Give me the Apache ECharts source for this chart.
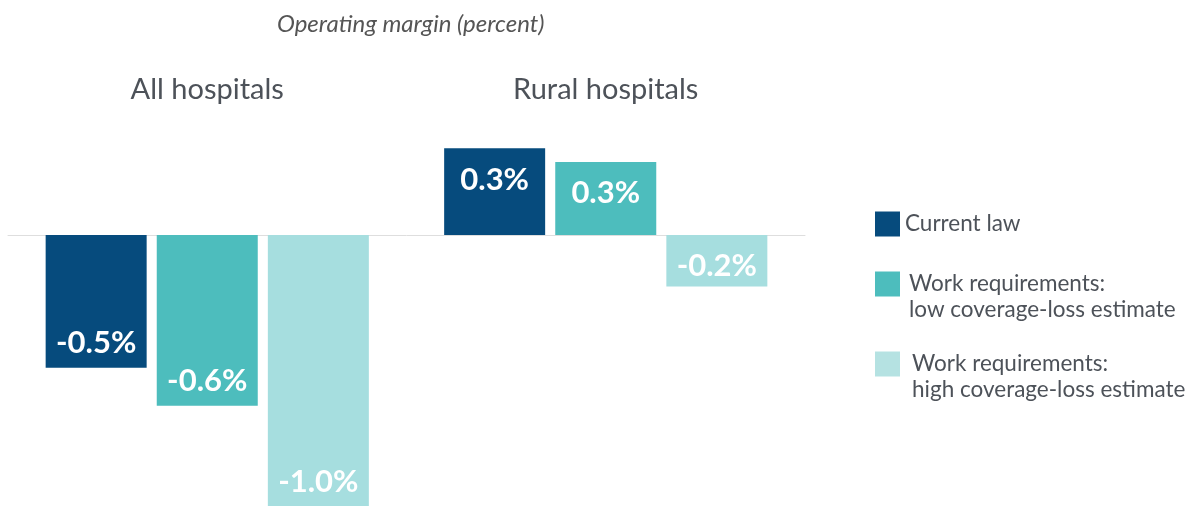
<!DOCTYPE html>
<html>
<head>
<meta charset="utf-8">
<script src="https://cdn.jsdelivr.net/npm/echarts@6/dist/echarts.min.js"></script>
<style>
  html, body { margin: 0; padding: 0; background: #fff; }
  #chart { width: 1193px; height: 506px; }
</style>
</head>
<body>
<div id="chart"></div>
<script>
// data
const categories = ["All hospitals", "Rural hospitals"];
const seriesNames = [
  "Current law",
  "Work requirements:\nlow coverage-loss estimate",
  "Work requirements:\nhigh coverage-loss estimate"
];
const currentLaw = [-0.49, 0.32];
const lowLoss = [-0.63, 0.27];
const highLoss = [-1.0, -0.19];
const colors = ["#064b7d", "#4dbdbd", "#a6dedf"];

const font = "Lato";

// label sits at the far end of each bar
const toData = (vals) => vals.map(v => ({
  value: v,
  label: v >= 0
    ? { position: "insideTop", distance: 16 }
    : { position: "insideBottom", distance: v > -0.3 ? 5 : 9 }
}));

const makeSeries = (name, vals, i) => ({
  name: name,
  type: "bar",
  data: toData(vals),
  barWidth: 101,
  barGap: "10%",
  itemStyle: { color: colors[i] },
  label: {
    show: true,
    color: "#fff",
    fontFamily: font,
    fontWeight: "bold",
    fontSize: 31,
    formatter: p => p.value.toFixed(1) + "%"
  }
});

const chart = echarts.init(document.getElementById("chart"));
chart.setOption({
  animation: false,
  title: {
    text: "Operating margin (percent)",
    left: 272,
    top: 7,
    textStyle: { fontFamily: font, fontStyle: "italic", fontWeight: "normal", fontSize: 24, color: "#555" }
  },
  legend: {
    orient: "vertical",
    left: 870,
    top: 200,
    itemWidth: 25,
    itemHeight: 25,
    itemGap: 2,
    icon: "rect",
    selectedMode: false,
    // two-line names: a blank first line keeps the first text line level with the swatch
    formatter: name => name.indexOf("\n") >= 0 ? " \n" + name : name,
    textStyle: { fontFamily: font, fontSize: 22.5, color: "#4d5259", lineHeight: 26 },
    data: [
      { name: seriesNames[0], textStyle: { padding: [6, 0, 6, 0] } },
      { name: seriesNames[1], textStyle: { padding: [0, 0, 0, 4] } },
      { name: seriesNames[2], textStyle: { padding: [0, 0, 0, 7] }, itemStyle: { color: "#b5e2e2" } }
    ]
  },
  grid: { left: 8, right: 388, top: 105, bottom: 0 },
  xAxis: [
    {
      type: "category",
      data: categories,
      axisLine: { onZero: true, lineStyle: { color: "#dedede", width: 1 } },
      axisTick: { show: false },
      axisLabel: { show: false }
    },
    {
      type: "category",
      data: categories,
      position: "top",
      axisLine: { show: false },
      axisTick: { show: false },
      axisLabel: { fontFamily: font, fontSize: 29, color: "#4d5259", margin: 1 }
    }
  ],
  yAxis: {
    type: "value",
    min: -1.0,
    max: 0.48,
    show: false
  },
  series: [
    makeSeries(seriesNames[0], currentLaw, 0),
    makeSeries(seriesNames[1], lowLoss, 1),
    makeSeries(seriesNames[2], highLoss, 2)
  ]
});
</script>
</body>
</html>
